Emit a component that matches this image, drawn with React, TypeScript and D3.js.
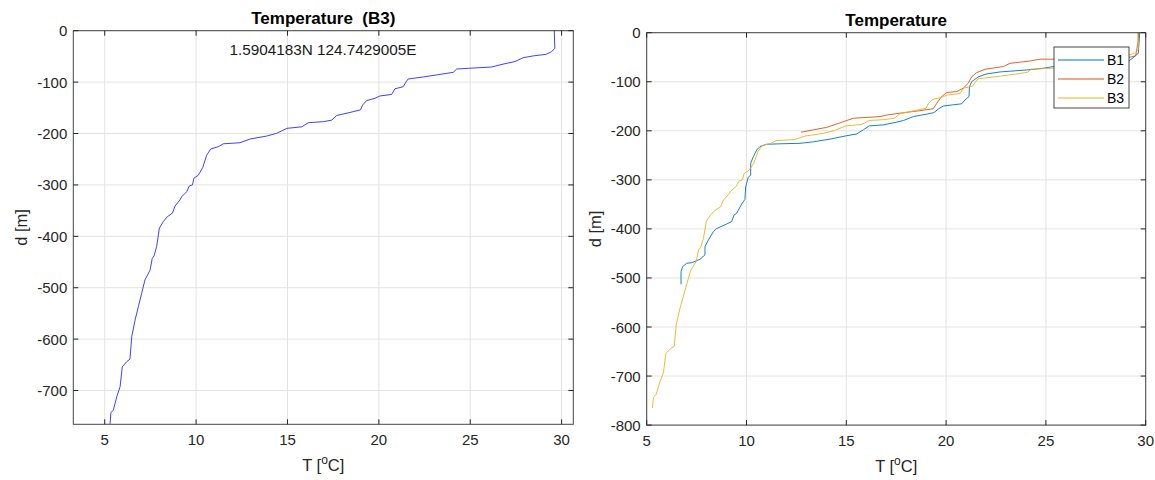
import React from "react";
import * as d3 from "d3";

// B3 profile (temperature °C, depth m)
const b3Temp = [29.6, 29.63, 29.45, 29.14, 28.45, 27.9, 27.45, 26.8, 26.17, 24.98, 24.26, 24.07, 23.16, 22.43, 21.6, 21.48, 21.33, 20.88, 20.7, 20.06, 19.79, 19.33, 19.11, 19.0, 18.42, 17.69, 17.42, 16.96, 16.14, 15.78, 14.96, 14.41, 13.86, 12.95, 12.4, 11.49, 11.21, 10.8, 10.58, 10.36, 10.12, 9.88, 9.8, 9.63, 9.49, 9.21, 9.12, 8.85, 8.7, 8.42, 8.2, 7.99, 7.84, 7.7, 7.6, 7.48, 7.2, 7.02, 6.84, 6.66, 6.48, 6.38, 6.2, 5.96, 5.84, 5.66, 5.47, 5.34, 5.29];
const b3Depth = [0, -34, -41, -46, -49, -52.5, -60, -65, -70.6, -73, -74.5, -81, -86, -90, -94, -100, -109, -113, -124, -127, -131.5, -136, -144.6, -154, -159, -165, -174, -177, -179, -187, -190, -199.6, -205, -210.7, -218, -220, -225.7, -230, -242, -266.5, -281, -287, -300, -302, -313, -323, -329, -341, -355, -362, -371.6, -384, -420, -438, -443, -466, -485, -511, -537, -563, -595, -639, -644, -654, -692.6, -712, -738, -743, -765];

// B1 profile
const b1Temp = [29.7, 29.63, 29.13, 27.5, 25.37, 24.87, 24.04, 22.7, 22.04, 21.61, 21.28, 21.17, 21.15, 20.95, 20.78, 20.36, 19.86, 19.61, 19.39, 19.03, 18.36, 17.86, 17.44, 16.85, 16.15, 15.85, 15.52, 15.02, 14.18, 13.35, 12.68, 11.68, 11.01, 10.68, 10.51, 10.34, 10.21, 10.21, 10.09, 9.96, 9.92, 9.76, 9.51, 9.37, 9.26, 9.01, 8.51, 8.34, 8.09, 7.92, 7.92, 7.67, 7.25, 7.0, 6.8, 6.72, 6.72];
const b1Depth = [0, -42, -59, -67, -69, -72.6, -76, -80, -84, -90, -100, -110, -130, -137, -145, -147, -149.5, -155.6, -163, -166, -171, -179, -183, -188, -190, -198, -206.5, -210, -217, -222.5, -225.5, -226.5, -227.5, -232, -239, -253, -266, -290, -295, -314, -340, -349, -368, -372, -385, -390, -399, -405.7, -422.6, -436, -453, -462, -469, -470, -477, -487, -513];

// B2 profile
const b2Temp = [29.65, 29.63, 29.5, 29.2, 28.5, 26.5, 24.7, 24.2, 23.2, 22.87, 21.95, 21.53, 21.28, 21.11, 20.86, 20.53, 20.03, 19.78, 19.53, 19.36, 18.69, 17.69, 17.02, 16.69, 15.35, 15.02, 14.6, 14.02, 13.35, 12.73];
const b2Depth = [0, -15, -47, -50, -52, -54, -54, -57.7, -62.5, -69, -74.6, -81.5, -90, -103, -113, -120, -122, -130, -144, -155, -159, -164, -168, -171, -174.5, -179, -185, -193, -198, -203];

const seriesNames = ["B1", "B2", "B3"];
const seriesColors = ["#0072BD", "#D95319", "#EDB120"];

const xTicks = [5, 10, 15, 20, 25, 30];
const leftYTicks = [0, -100, -200, -300, -400, -500, -600, -700];
const rightYTicks = [0, -100, -200, -300, -400, -500, -600, -700, -800];

const FONT = "'Liberation Sans', Arial, Helvetica, sans-serif";
const AX = "#262626";
const GRID = "#e3e3e3";

type Pt = [number, number];
const zip = (t: number[], d: number[]): Pt[] => t.map((v, i) => [v, d[i]]);

function Axes(props: {
  x0: number; x1: number; y0: number; y1: number;
  xDomain: [number, number]; yDomain: [number, number];
  yTicks: number[]; title: string; children: (x: d3.ScaleLinear<number, number>, y: d3.ScaleLinear<number, number>) => React.ReactNode;
}) {
  const { x0, x1, y0, y1, xDomain, yDomain, yTicks, title } = props;
  const x = d3.scaleLinear().domain(xDomain).range([x0, x1]);
  const y = d3.scaleLinear().domain(yDomain).range([y1, y0]);
  const cx = (x0 + x1) / 2;
  const cy = (y0 + y1) / 2;
  const tl = 5;
  return (
    <g>
      <rect x={x0} y={y0} width={x1 - x0} height={y1 - y0} fill="#fff" />
      {xTicks.map((t) => (
        <line key={"gx" + t} x1={x(t)} x2={x(t)} y1={y0} y2={y1} stroke={GRID} strokeWidth={1} />
      ))}
      {yTicks.map((t) => (
        <line key={"gy" + t} x1={x0} x2={x1} y1={y(t)} y2={y(t)} stroke={GRID} strokeWidth={1} />
      ))}
      {props.children(x, y)}
      <rect x={x0} y={y0} width={x1 - x0} height={y1 - y0} fill="none" stroke={AX} strokeOpacity={0.85} strokeWidth={1} />
      {xTicks.map((t) => (
        <g key={"tx" + t}>
          <line x1={x(t)} x2={x(t)} y1={y1} y2={y1 - tl} stroke={AX} />
          <line x1={x(t)} x2={x(t)} y1={y0} y2={y0 + tl} stroke={AX} />
          <text x={x(t)} y={y1 + 21} textAnchor="middle" fontSize={15} fill={AX} fontFamily={FONT}>{t}</text>
        </g>
      ))}
      {yTicks.map((t) => (
        <g key={"ty" + t}>
          <line x1={x0} x2={x0 + tl} y1={y(t)} y2={y(t)} stroke={AX} />
          <line x1={x1} x2={x1 - tl} y1={y(t)} y2={y(t)} stroke={AX} />
          <text x={x0 - 6} y={y(t) + 5.5} textAnchor="end" fontSize={15} fill={AX} fontFamily={FONT}>{t}</text>
        </g>
      ))}
      <text x={cx} y={y0 - 7} textAnchor="middle" fontSize={17} fontWeight="bold" fill="#000" fontFamily={FONT} style={{ whiteSpace: "pre" }}>{title}</text>
      <text x={cx} y={y1 + 47} textAnchor="middle" fontSize={16.5} fill={AX} fontFamily={FONT}>
        T [<tspan fontSize={12} dy={-7}>o</tspan><tspan dy={7}>C]</tspan>
      </text>
      <text transform={`translate(${x0 - 46},${cy}) rotate(-90)`} textAnchor="middle" fontSize={16.5} fill={AX} fontFamily={FONT}>d [m]</text>
    </g>
  );
}

export default function App() {
  const line = (x: d3.ScaleLinear<number, number>, y: d3.ScaleLinear<number, number>) =>
    d3.line<Pt>().x((p) => x(p[0])).y((p) => y(p[1]));
  const series: Pt[][] = [zip(b1Temp, b1Depth), zip(b2Temp, b2Depth), zip(b3Temp, b3Depth)];
  return (
    <svg width={1155} height={480} style={{ position: "absolute", left: 0, top: 0, background: "#fff" }}>
      <rect width={1155} height={480} fill="#fff" />
      <Axes x0={73.3} x1={573.3} y0={30.7} y1={424.3} xDomain={[3.28, 30.64]} yDomain={[-765.7, 0]} yTicks={leftYTicks} title="Temperature  (B3)">
        {(x, y) => (
          <g>
            <path d={line(x, y)(series[2]) || ""} fill="none" stroke="#2a2aff" strokeWidth={0.9} />
            <text x={323} y={55} textAnchor="middle" fontSize={15.3} fill="#1a1a1a" fontFamily={FONT}>1.5904183N 124.7429005E</text>
          </g>
        )}
      </Axes>
      <Axes x0={646.7} x1={1145.7} y0={32.7} y1={425.1} xDomain={[5, 30]} yDomain={[-800, 0]} yTicks={rightYTicks} title="Temperature">
        {(x, y) => (
          <g>
            {series.map((s, i) => (
              <path key={i} d={line(x, y)(s) || ""} fill="none" stroke={seriesColors[i]} strokeWidth={0.9} />
            ))}
            <rect x={1054} y={47} width={75} height={61} fill="#fff" stroke={AX} strokeOpacity={0.85} strokeWidth={1} />
            {seriesNames.map((n, i) => (
              <g key={n}>
                <line x1={1058} x2={1104} y1={60 + i * 19} y2={60 + i * 19} stroke={seriesColors[i]} strokeWidth={1} />
                <text x={1107} y={65 + i * 19} fontSize={14} fill="#000" fontFamily={FONT}>{n}</text>
              </g>
            ))}
          </g>
        )}
      </Axes>
    </svg>
  );
}
